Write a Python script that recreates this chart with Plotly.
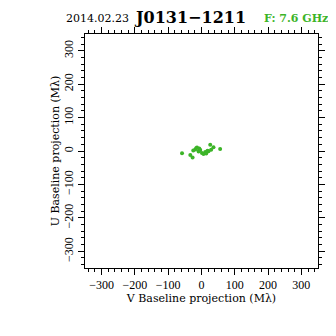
import plotly.graph_objects as go

# uv points (M lambda)
v_vals = [-58.5, -33.6, -26.8, -18.7, -13.6, -6.7, -8.8, 1.3, 6.1, 11.2, 21.1, 26.2, 36.0, 56.0, 29.0, -24.7, 14.2, -3.7, -16.0, 18.0]
u_vals = [-6.9, -12.0, -19.4, 4.5, 10.5, 7.5, -1.5, -6.0, -9.0, -3.0, -0.9, 18.8, 11.0, 6.0, 3.9, 1.5, -7.5, 3.0, 8.0, 1.0]

tick_vals = [-300, -200, -100, 0, 100, 200, 300]
tick_text = ["\u2212300", "\u2212200", "\u2212100", "0", "100", "200", "300"]

date_text = "2014.02.23"
source_text = "J0131\u22121211"
freq_text = "F: 7.6 GHz"

green = "#3cb428"
tick_fam = "Liberation Serif, serif"
title_fam = "DejaVu Serif, serif"

OFF = 8  # page body margin
W = H = 336 - OFF
L, R, T, B = 85 - OFF, 18, 34 - OFF, 68

fig = go.Figure()
fig.add_trace(go.Scatter(x=v_vals, y=u_vals, mode="markers",
                         marker=dict(color=green, size=4, symbol="circle", line=dict(width=0)),
                         hoverinfo="skip"))

axis_common = dict(
    range=[-350, 350], tickvals=tick_vals, ticktext=tick_text,
    ticks="outside", ticklen=6, tickwidth=1, tickcolor="black",
    showline=True, linecolor="black", linewidth=1, mirror="ticks",
    showgrid=False, zeroline=False,
    minor=dict(dtick=20, tick0=0, ticks="outside", ticklen=3, tickcolor="black", showgrid=False),
    tickfont=dict(family=tick_fam, size=12, color="black"),
)

fig.update_layout(
    width=W, height=H,
    margin=dict(l=L, r=R, t=T, b=B, autoexpand=False),
    paper_bgcolor="white", plot_bgcolor="white",
    showlegend=False,
    xaxis=dict(**axis_common,
               title=dict(text="V Baseline projection (M\u03bb)", standoff=0,
                          font=dict(family=title_fam, size=11, color="black"))),
    yaxis=dict(**axis_common, tickangle=-90,
               title=dict(text="U Baseline projection (M\u03bb)", standoff=0,
                          font=dict(family=title_fam, size=11, color="black"))),
)

pw = W - L - R
ph = H - T - B
def ann(text, px, py, size, color):
    fig.add_annotation(text=text, x=(px - OFF - L) / pw, y=(H - B - (py - OFF)) / ph,
                       xref="paper", yref="paper", showarrow=False,
                       xanchor="center", yanchor="middle",
                       font=dict(family=title_fam, size=size, color=color))

ann(date_text, 97, 18, 11, "black")
ann("<b>" + source_text + "</b>", 190, 17, 16, "black")
ann("<b>" + freq_text + "</b>", 296, 18, 11, green)

fig.write_html("out.html")
